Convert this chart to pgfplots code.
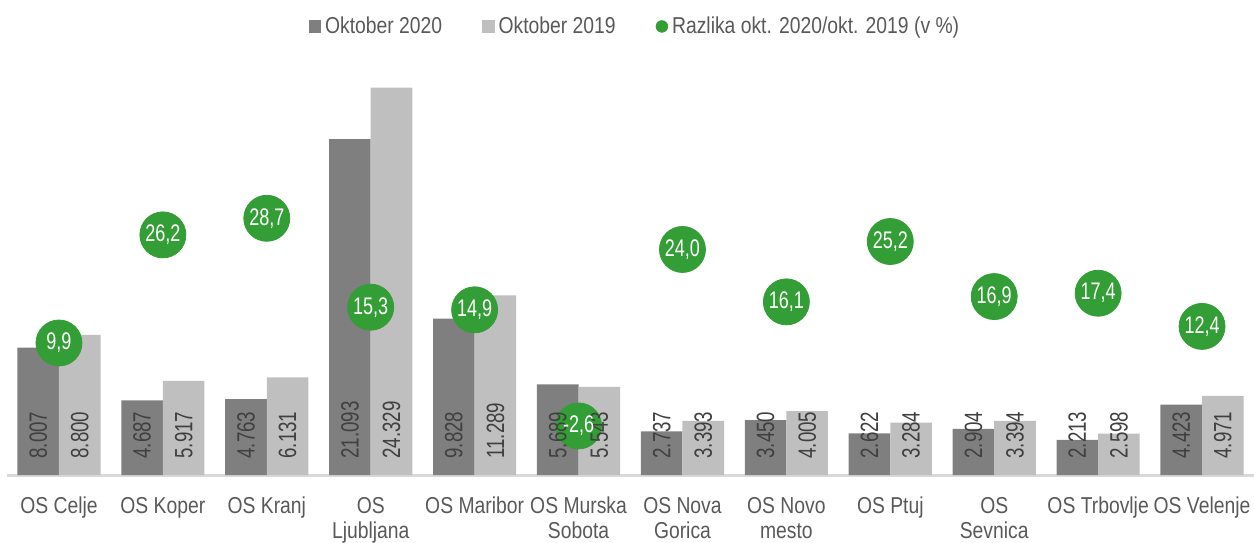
\documentclass[border=0pt]{standalone}
\usepackage{pgfplots}
\usepackage{pgfplotstable}
\pgfplotsset{compat=1.18}
\usepackage{fontspec}
\setmainfont[FakeStretch=0.84]{Liberation Sans}
\newfontfamily\narrowfont[FakeStretch=0.75]{Liberation Sans}
\definecolor{darkbar}{HTML}{7F7F7F}
\definecolor{lightbar}{HTML}{BFBFBF}
\definecolor{circ}{HTML}{339E35}
\definecolor{txt}{HTML}{595959}
\definecolor{lbl}{HTML}{404040}
\definecolor{axisgray}{HTML}{D9D9D9}
\newcommand{\chartfont}{\fontsize{11.5}{12.5}\selectfont}
\newcommand{\barfont}{\narrowfont\fontsize{12.5}{13}\selectfont}
\newcommand{\circfont}{\narrowfont\fontsize{12}{13}\selectfont}

\pgfplotstableread{
x v2020 v2019 diff
0 8007 8800 9.9
1 4687 5917 26.2
2 4763 6131 28.7
3 21093 24329 15.3
4 9828 11289 14.9
5 5689 5543 -2.6
6 2737 3393 24.0
7 3450 4005 16.1
8 2622 3284 25.2
9 2904 3394 16.9
10 2213 2598 17.4
11 4423 4971 12.4
}\data

\pgfplotsset{base/.style={scale only axis, width=623.5pt, height=199pt,
  at={(3.5pt,33.5pt)}, anchor=south west, xmin=-0.5, xmax=11.5, clip=false,
  /pgf/number format/assume math mode=true}}

\begin{document}
\begin{tikzpicture}
\path[use as bounding box] (0,0) rectangle (627pt,271pt);
\begin{axis}[base, ymin=0, ymax=25000,
  axis x line=bottom, axis y line=none,
  x axis line style={-, draw=axisgray, line width=1.5pt},
  xtick={0,...,11}, major tick length=0pt,
  xticklabels={{OS Celje},{OS Koper},{OS Kranj},{OS\\Ljubljana},{OS Maribor},{OS Murska\\Sobota},{OS Nova\\Gorica},{OS Novo\\mesto},{OS Ptuj},{OS\\Sevnica},{OS Trbovlje},{OS Velenje}},
  xticklabel style={font=\chartfont, text=txt, align=center, yshift=-7.5pt},
]
\addplot[ybar, bar width=0.4, bar shift=-0.2, fill=darkbar, draw=none] table[x=x, y=v2020]{\data};
\addplot[ybar, bar width=0.4, bar shift=0.2, fill=lightbar, draw=none] table[x=x, y=v2019]{\data};
\end{axis}
\begin{axis}[base, ymin=-10, ymax=50, hide axis,
  legend style={at={(0.5044,1.127)}, anchor=center, draw=none, fill=none,
    legend columns=3, font=\chartfont, text=txt, inner sep=0pt,
    /tikz/every even column/.append style={column sep=18pt}},
  legend cell align=left,
]
\addlegendimage{legend image code/.code={\fill[darkbar] (0pt,-2.9pt) rectangle (5.8pt,2.9pt);}}
\addlegendentry{Oktober 2020}
\addlegendimage{legend image code/.code={\fill[lightbar] (0pt,-2.9pt) rectangle (5.8pt,2.9pt);}}
\addlegendentry{Oktober 2019}
\addlegendimage{legend image code/.code={\fill[circ] (2.9pt,0pt) circle (2.9pt);}}
\addlegendentry{Razlika okt. 2020/okt. 2019 (v \%)}
% circles
\addplot[forget plot, only marks, mark=*, mark size=11.5pt, circ, mark options={draw=none, fill=circ}] table[x=x, y=diff]{\data};
% bar value labels at the bar bases
\addplot[forget plot, only marks, mark=*, mark size=0pt, mark options={draw=none, fill=none},
  point meta=explicit,
  nodes near coords={\pgfmathprintnumber[fixed, precision=0, 1000 sep={.}]{\pgfplotspointmeta}},
  nodes near coords style={font=\barfont, text=lbl, inner sep=0pt, yshift=8pt, rotate=90, anchor=west}]
  table[x expr=\thisrow{x}-0.2, y expr=-10, meta=v2020]{\data};
\addplot[forget plot, only marks, mark=*, mark size=0pt, mark options={draw=none, fill=none},
  point meta=explicit,
  nodes near coords={\pgfmathprintnumber[fixed, precision=0, 1000 sep={.}]{\pgfplotspointmeta}},
  nodes near coords style={font=\barfont, text=lbl, inner sep=0pt, yshift=8pt, rotate=90, anchor=west}]
  table[x expr=\thisrow{x}+0.2, y expr=-10, meta=v2019]{\data};
% circle labels
\addplot[forget plot, only marks, mark=*, mark size=0pt, mark options={draw=none, fill=none},
  point meta=explicit,
  nodes near coords={\pgfmathprintnumber[fixed, fixed zerofill, precision=1, use comma]{\pgfplotspointmeta}},
  nodes near coords style={font=\circfont, text=white, anchor=center}]
  table[x=x, y=diff, meta=diff]{\data};
\end{axis}
\end{tikzpicture}
\end{document}
